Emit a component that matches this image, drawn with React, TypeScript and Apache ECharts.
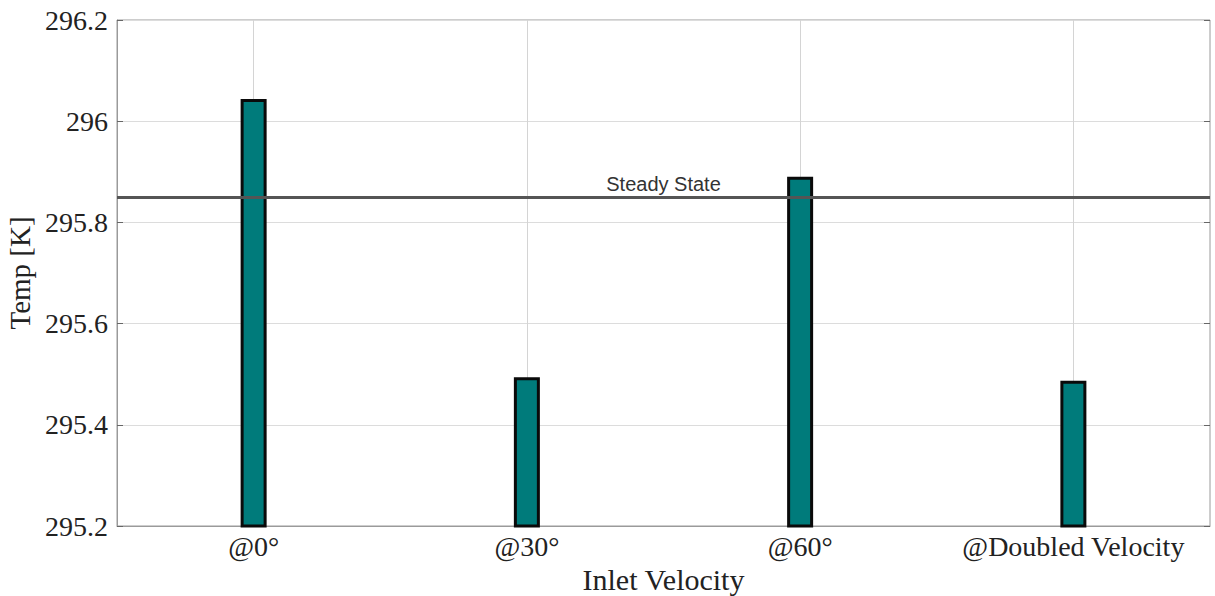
import React, { useEffect, useRef } from "react";
import * as echarts from "echarts";

const categories = ["@0°", "@30°", "@60°", "@Doubled Velocity"];
const temps = [296.044, 295.494, 295.89, 295.487];
const steadyState = 295.85;
const yMin = 295.2;
const yMax = 296.2;
const yStep = 0.2;

const serif = "'Liberation Serif', 'Times New Roman', serif";

export default function App() {
  const ref = useRef<HTMLDivElement>(null);
  useEffect(() => {
    if (!ref.current) return;
    const chart = echarts.init(ref.current, undefined, { renderer: "svg" });
    const fmt = (v: number) => String(parseFloat(Number(v).toFixed(1)));
    chart.setOption({
      animation: false,
      backgroundColor: "#fff",
      grid: {
        left: 117,
        right: 5,
        top: 20,
        bottom: 70,
        show: true,
        borderColor: "#9a9a9a",
        borderWidth: 1,
        backgroundColor: "transparent",
        outerBoundsMode: "none",
        containLabel: false,
      },
      xAxis: [
        {
          type: "category",
          data: categories,
          boundaryGap: true,
          name: "Inlet Velocity",
          nameLocation: "middle",
          nameGap: 31,
          nameTextStyle: { fontFamily: serif, fontSize: 30, color: "#222" },
          axisLine: { show: true, lineStyle: { color: "#9a9a9a", width: 1 } },
          axisTick: { show: true, inside: true, alignWithLabel: true, length: 8, lineStyle: { color: "#444" } },
          axisLabel: { fontFamily: serif, fontSize: 28, color: "#222", margin: 6, interval: 0, hideOverlap: false },
          splitLine: { show: false },
        },
        {
          type: "category",
          data: categories,
          position: "top",
          boundaryGap: true,
          axisLine: { show: false },
          axisTick: { show: true, inside: true, alignWithLabel: true, length: 8, lineStyle: { color: "#444" } },
          axisLabel: { show: false },
          splitLine: { show: false },
        },
      ],
      yAxis: [
        {
          type: "value",
          min: yMin,
          max: yMax,
          interval: yStep,
          name: "Temp [K]",
          nameLocation: "middle",
          nameGap: 80,
          nameTextStyle: { fontFamily: serif, fontSize: 29, color: "#222" },
          axisLine: { show: true, lineStyle: { color: "#9a9a9a", width: 1 } },
          axisTick: { show: true, inside: true, length: 6, lineStyle: { color: "#666" } },
          axisLabel: { fontFamily: serif, fontSize: 28, color: "#222", margin: 9, formatter: fmt },
          splitLine: { show: true, lineStyle: { color: "#dcdcdc", width: 1 } },
        },
        {
          type: "value",
          min: yMin,
          max: yMax,
          interval: yStep,
          position: "right",
          axisLine: { show: false },
          axisTick: { show: true, inside: true, length: 6, lineStyle: { color: "#666" } },
          axisLabel: { show: false },
          splitLine: { show: false },
        },
      ],
      series: [
        {
          type: "bar",
          data: temps,
          barWidth: 26,
          itemStyle: { color: "#007b7b", borderColor: "#0a0a0a", borderWidth: 3 },
          z: 3,
          markLine: {
            silent: true,
            symbol: "none",
            z: 1,
            label: { show: false },
            lineStyle: { color: "#d4d4d4", width: 1, type: "solid" },
            data: categories.map((c) => ({ xAxis: c })),
          },
        },
        {
          type: "line",
          data: [],
          z: 4,
          markLine: {
            silent: true,
            symbol: "none",
            lineStyle: { color: "#555", width: 3, type: "solid" },
            label: {
              show: true,
              position: "middle",
              formatter: "Steady State",
              fontFamily: "'Liberation Sans', Arial, sans-serif",
              fontSize: 20,
              color: "#333",
              distance: 3,
            },
            data: [{ yAxis: steadyState }],
          },
        },
      ],
    });
    return () => chart.dispose();
  }, []);
  return (
    <div
      ref={ref}
      style={{ position: "fixed", left: 0, top: 0, width: 1215, height: 596 }}
    />
  );
}
